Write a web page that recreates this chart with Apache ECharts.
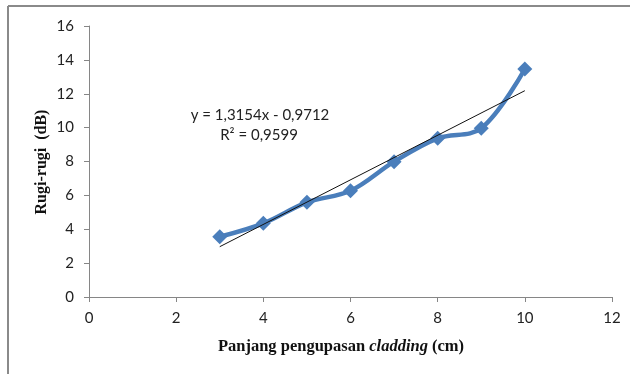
<!DOCTYPE html>
<html>
<head>
<meta charset="utf-8">
<script src="https://cdn.jsdelivr.net/npm/echarts@6/dist/echarts.min.js"></script>
<style>
  html, body { margin: 0; padding: 0; background: #fff; }
  #chart { width: 630px; height: 374px; }
</style>
</head>
<body>
<div id="chart"></div>
<script>
// panjang pengupasan cladding (cm) vs rugi-rugi (dB)
var panjang = [3, 4, 5, 6, 7, 8, 9, 10];
var rugi = [3.56, 4.35, 5.59, 6.27, 7.99, 9.37, 9.96, 13.46];
// linear trendline ends
var trendX = [3, 10];
var trendY = [2.97, 12.18];
var xTicks = [0, 2, 4, 6, 8, 10, 12];
var yTicks = [0, 2, 4, 6, 8, 10, 12, 14, 16];

var pts = panjang.map(function (x, i) { return [x, rugi[i]]; });
var trend = trendX.map(function (x, i) { return [x, trendY[i]]; });

var axisCol = '#868686';
var serif = { fontFamily: 'Liberation Serif', fontWeight: 'bold', fontSize: 16.5, fill: '#111' };
var option = {
  animation: false,
  backgroundColor: '#fff',
  grid: { left: 89, right: 18, top: 26, bottom: 77 },
  xAxis: {
    type: 'value',
    min: xTicks[0], max: xTicks[xTicks.length - 1], interval: 2,
    axisLine: { show: true, lineStyle: { color: axisCol, width: 1 } },
    axisTick: { show: true, length: 5, lineStyle: { color: axisCol } },
    splitLine: { show: false },
    axisLabel: { color: '#222', fontFamily: 'Lato', fontSize: 15, margin: 14 }
  },
  yAxis: {
    type: 'value',
    min: yTicks[0], max: yTicks[yTicks.length - 1], interval: 2,
    axisLine: { show: true, lineStyle: { color: axisCol, width: 1 } },
    axisTick: { show: true, length: 5, lineStyle: { color: axisCol } },
    splitLine: { show: false },
    axisLabel: { color: '#222', fontFamily: 'Lato', fontSize: 15, margin: 15 }
  },
  graphic: [
    { type: 'line', shape: { x1: 8, y1: 6, x2: 630, y2: 6 }, style: { stroke: '#8a8a8a', lineWidth: 2 } },
    { type: 'line', shape: { x1: 8, y1: 6, x2: 8, y2: 374 }, style: { stroke: '#8a8a8a', lineWidth: 2 } },
    {
      type: 'text', x: 42, y: 162, rotation: Math.PI / 2,
      style: Object.assign({ text: 'Rugi-rugi  (dB)', align: 'center', verticalAlign: 'middle' }, serif, { fontSize: 16 })
    },
    {
      type: 'text', x: 341, y: 347,
      style: {
        text: '{n|Panjang pengupasan }{i|cladding}{n| (cm)}',
        align: 'center', verticalAlign: 'middle',
        rich: {
          n: serif,
          i: Object.assign({}, serif, { fontStyle: 'italic' })
        }
      }
    },
    {
      type: 'text', x: 260, y: 115,
      style: {
        text: 'y = 1,3154x - 0,9712', fontFamily: 'Lato', fontSize: 15, fill: '#222',
        align: 'center', verticalAlign: 'middle'
      }
    },
    {
      type: 'text', x: 259, y: 135,
      style: {
        text: 'R\u00b2 = 0,9599', fontFamily: 'Lato', fontSize: 15, fill: '#222',
        align: 'center', verticalAlign: 'middle'
      }
    }
  ],
  series: [
    {
      type: 'line',
      data: pts,
      smooth: 0.35,
      symbol: 'diamond',
      symbolSize: 15,
      itemStyle: { color: '#4a7ebb' },
      lineStyle: { color: '#4a7ebb', width: 4.5 },
      z: 2
    },
    {
      type: 'line',
      data: trend,
      symbol: 'none',
      lineStyle: { color: '#111', width: 1 },
      z: 3
    }
  ]
};

var myChart = echarts.init(document.getElementById('chart'));
myChart.setOption(option);
</script>
</body>
</html>
